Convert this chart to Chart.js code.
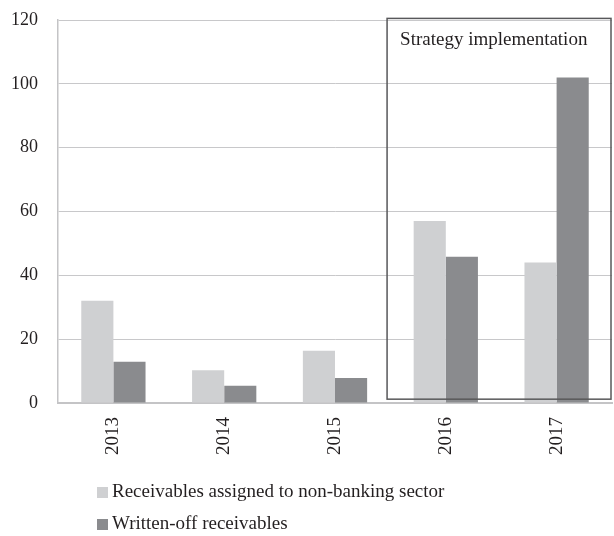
<!DOCTYPE html>
<html>
<head>
<meta charset="utf-8">
<script src="https://cdn.jsdelivr.net/npm/chart.js@4"></script>
<style>
  html, body { margin: 0; padding: 0; background: #fff; }
  #wrap { width: 614px; height: 536px; }
</style>
</head>
<body>
<div id="wrap"><canvas id="chart"></canvas></div>
<script>
const years = ['2013', '2014', '2015', '2016', '2017'];
const assignedNonBanking = [32, 10.3, 16.4, 57, 44];
const writtenOff = [12.9, 5.4, 7.8, 45.8, 102];
const seriesNames = ['Receivables assigned to non-banking sector', 'Written-off receivables'];
const boxLabel = 'Strategy implementation';

const FONT = '"Liberation Serif", "DejaVu Serif", serif';
const INK = '#231f20';

// box around 2016-2017 + its caption
const strategyBox = {
  id: 'strategyBox',
  afterDatasetsDraw(chart) {
    const { ctx, scales: { x, y }, chartArea } = chart;
    const left = x.getPixelForValue(2.47);
    const right = chartArea.right - 1;
    const top = y.getPixelForValue(120.5);
    const bottom = y.getPixelForValue(1.2);
    ctx.save();
    ctx.strokeStyle = '#58585a';
    ctx.lineWidth = 1.5;
    ctx.strokeRect(left, top, right - left, bottom - top);
    ctx.fillStyle = INK;
    ctx.font = '19px ' + FONT;
    ctx.textBaseline = 'alphabetic';
    ctx.fillText(boxLabel, left + 13, top + 27);
    ctx.restore();
  }
};

// legend stacked vertically under the axis
const stackedLegend = {
  id: 'stackedLegend',
  afterDraw(chart) {
    const { ctx } = chart;
    ctx.save();
    ctx.font = '19px ' + FONT;
    ctx.textBaseline = 'middle';
    chart.data.datasets.forEach((ds, i) => {
      const yMid = 492 + i * 32;
      ctx.fillStyle = ds.backgroundColor;
      ctx.fillRect(97, yMid - 5, 11, 11);
      ctx.fillStyle = INK;
      ctx.fillText(ds.label, 112, yMid);
    });
    ctx.restore();
  }
};

new Chart(document.getElementById('chart'), {
  type: 'bar',
  data: {
    labels: years,
    datasets: [
      { label: seriesNames[0], data: assignedNonBanking, backgroundColor: '#cfd0d2' },
      { label: seriesNames[1], data: writtenOff, backgroundColor: '#8a8b8e' }
    ]
  },
  options: {
    responsive: true,
    maintainAspectRatio: false,
    animation: false,
    datasets: { bar: { barPercentage: 1, categoryPercentage: 0.58 } },
    layout: { padding: { top: 20, right: 2, left: 0, bottom: 63 } },
    plugins: {
      legend: { display: false },
      tooltip: { enabled: false }
    },
    scales: {
      x: {
        afterFit: s => { s.height = 70; },
        grid: { display: false, drawTicks: false },
        border: { color: '#c4c4c6', width: 2 },
        ticks: {
          color: INK,
          font: { family: FONT, size: 19 },
          minRotation: 90,
          maxRotation: 90,
          padding: 14
        }
      },
      y: {
        min: 0,
        max: 120,
        afterFit: s => { s.width = 58; s.paddingTop = 0; s.paddingBottom = 0; },
        grid: { color: '#c8c8ca', lineWidth: 1, drawTicks: false },
        border: { color: '#c4c4c6', width: 1.5 },
        ticks: {
          stepSize: 20,
          color: INK,
          font: { family: FONT, size: 18 },
          padding: 20
        }
      }
    }
  },
  plugins: [strategyBox, stackedLegend]
});
</script>
</body>
</html>
